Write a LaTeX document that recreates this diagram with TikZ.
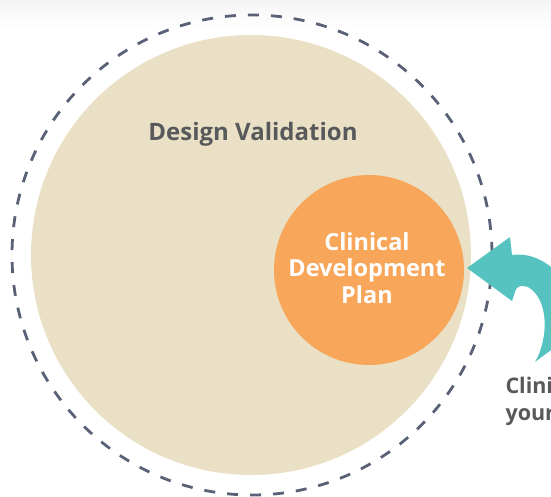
\documentclass[tikz,border=0pt]{standalone}
\usepackage{fontspec}
\setmainfont{Open Sans}
\definecolor{beige}{HTML}{EAE0C5}
\definecolor{orng}{HTML}{F7A65A}
\definecolor{teal}{HTML}{56C3C0}
\definecolor{dashc}{HTML}{596176}
\definecolor{txt}{HTML}{58595B}
\begin{document}
\begin{tikzpicture}[x=1pt,y=-1pt,
  lbl/.style={font=\bfseries\fontsize{24}{28}\selectfont, text=txt},
  inner/.style={font=\bfseries\fontsize{23.5}{26.5}\selectfont, text=white, align=center}]
\useasboundingbox (0,0) rectangle (551,497);
\shade[top color=black!4, bottom color=white] (0,0) rectangle (551,30);
\node[circle, fill=beige, minimum size=440pt, inner sep=0pt] (dv) at (251,255) {};
\draw[dashc, line width=2.8pt, dash pattern=on 11pt off 12pt] (252,255) circle (240);
\node[lbl] (dvt) at (253,134) {Design Validation};
\node[circle, fill=orng, minimum size=190pt, inner sep=0pt] (cdp) at (369,270) {};
\node[inner] (cdpt) at (367,268) {Clinical\\Development\\Plan};
\fill[teal] (467,268) -- (510,237) -- (512,255)
  .. controls (545,250) and (580,285) .. (578,330)
  -- (535,362)
  .. controls (548,340) and (550,300) .. (528,287)
  .. controls (522,285) and (518,286) .. (516,289)
  -- (512,301) -- cycle;
\node[lbl, anchor=west, align=left, font=\bfseries\fontsize{21.5}{27}\selectfont] (ct) at (502,401) {Clinical\\your};
\end{tikzpicture}
\end{document}
